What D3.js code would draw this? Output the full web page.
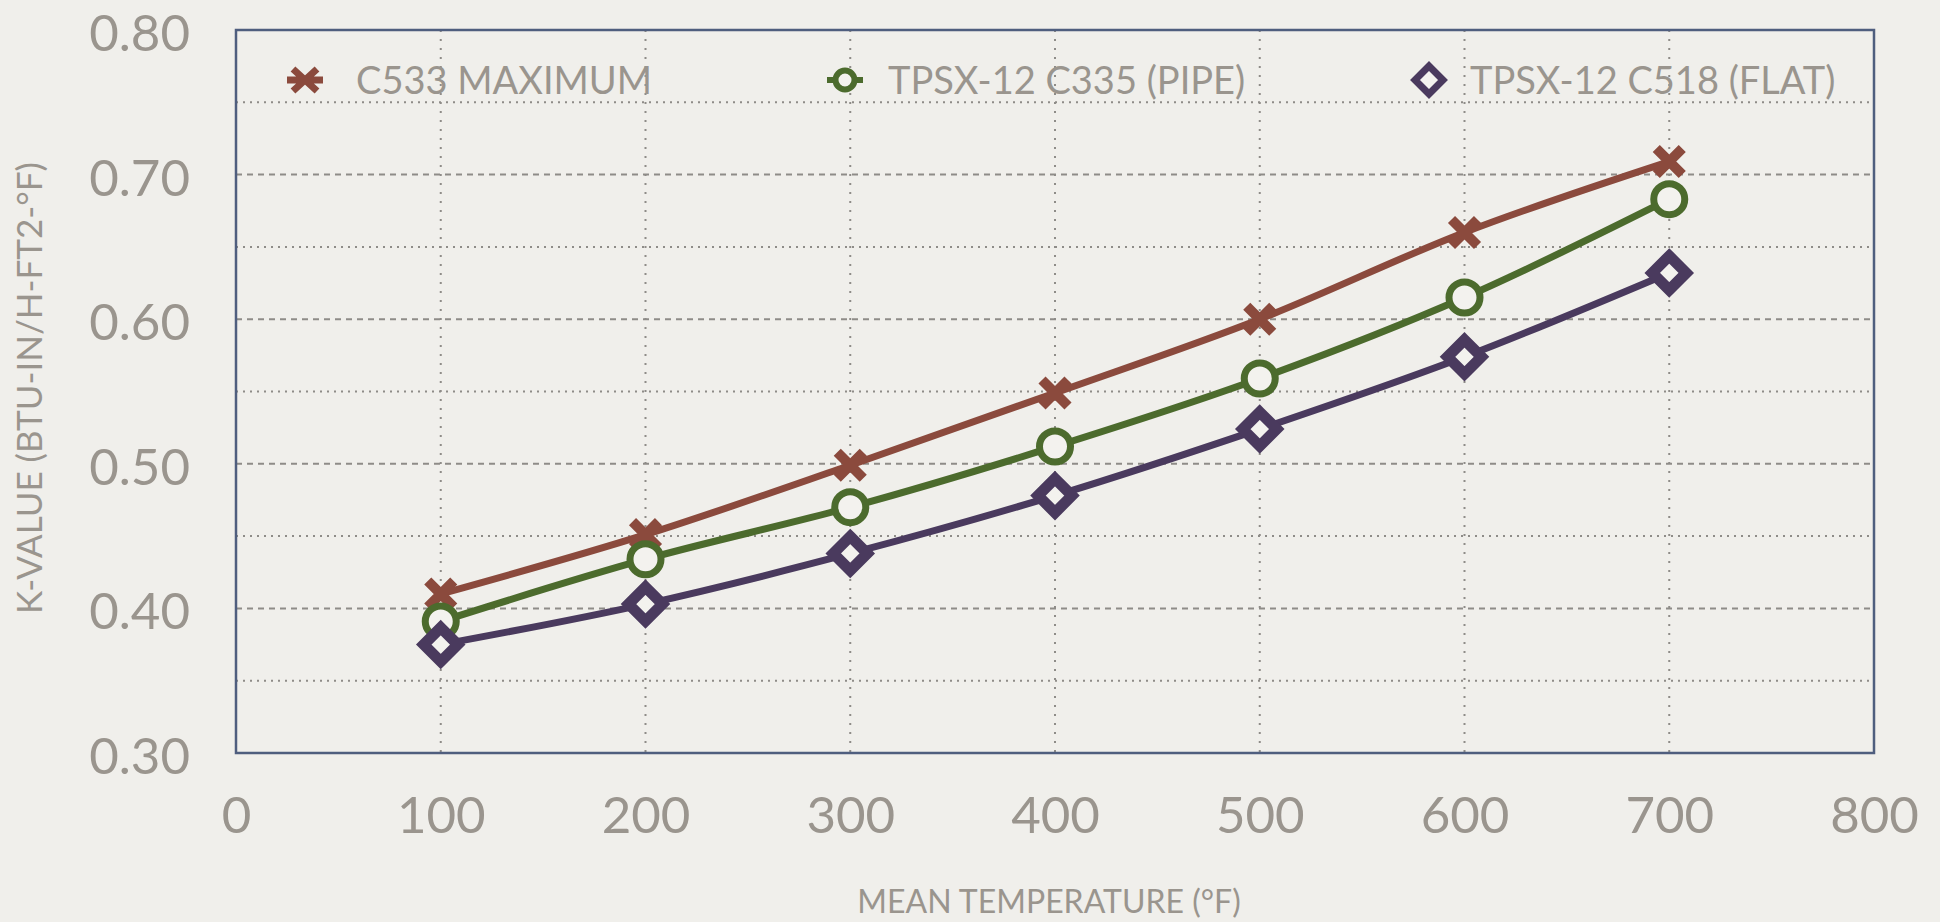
<!DOCTYPE html>
<html>
<head>
<meta charset="utf-8">
<script src="https://cdn.jsdelivr.net/npm/d3@7"></script>
<style>
  body { margin: 0; background: #f0efeb; }
  svg { display: block; }
</style>
</head>
<body>
<div id="chart"></div>
<script>
var width = 1940, height = 922;
var margin = {top: 30, right: 66, bottom: 169, left: 236};

// data
var temps = [100, 200, 300, 400, 500, 600, 700];
var c533Max = [0.410, 0.451, 0.499, 0.549, 0.600, 0.660, 0.709];
var pipeC335 = [0.391, 0.434, 0.470, 0.512, 0.559, 0.615, 0.683];
var flatC518 = [0.375, 0.403, 0.438, 0.478, 0.524, 0.574, 0.632];
var seriesNames = ["C533 MAXIMUM", "TPSX-12 C335 (PIPE)", "TPSX-12 C518 (FLAT)"];
var xTicks = [0, 100, 200, 300, 400, 500, 600, 700, 800];
var yTicks = [0.30, 0.40, 0.50, 0.60, 0.70, 0.80];

var colors = ["#8b4a3d", "#4c6b2d", "#4a3a5e"];
var textColor = "#9a958e";
var font = "Lato, 'DejaVu Sans', sans-serif";

var series = [
  {name: seriesNames[0], values: c533Max, shape: "x"},
  {name: seriesNames[1], values: pipeC335, shape: "circle"},
  {name: seriesNames[2], values: flatC518, shape: "diamond"}
];

var svg = d3.select("#chart").append("svg")
    .attr("width", width)
    .attr("height", height);

svg.append("rect")
    .attr("width", width).attr("height", height)
    .attr("fill", "#f0efeb");

var w = width - margin.left - margin.right,
    h = height - margin.top - margin.bottom;

var x = d3.scaleLinear().domain([0, 800]).range([0, w]);
var y = d3.scaleLinear().domain([0.30, 0.80]).range([h, 0]);

var g = svg.append("g")
    .attr("transform", "translate(" + margin.left + "," + margin.top + ")");

// grid: dashed at 0.1, dotted at 0.05
d3.range(0.35, 0.80, 0.05).forEach(function(v) {
  var major = Math.abs(Math.round(v * 10) - v * 10) < 1e-6;
  g.append("line")
      .attr("x1", 0).attr("x2", w)
      .attr("y1", y(v)).attr("y2", y(v))
      .attr("stroke", "#8e8c88")
      .attr("stroke-width", 2)
      .attr("stroke-dasharray", major ? "6,5" : "2,5");
});
xTicks.slice(1, -1).forEach(function(t) {
  g.append("line")
      .attr("x1", x(t)).attr("x2", x(t))
      .attr("y1", 0).attr("y2", h)
      .attr("stroke", "#8e8c88")
      .attr("stroke-width", 2)
      .attr("stroke-dasharray", "2,7");
});

// frame
g.append("rect")
    .attr("width", w).attr("height", h)
    .attr("fill", "none")
    .attr("stroke", "#4f5e7e")
    .attr("stroke-width", 2.5);

// axes
var xAxis = g.append("g")
    .attr("transform", "translate(0," + h + ")")
    .call(d3.axisBottom(x).tickValues(xTicks).tickSize(0).tickPadding(44));
var yAxis = g.append("g")
    .call(d3.axisLeft(y).tickValues(yTicks).tickSize(0).tickPadding(46)
      .tickFormat(d3.format(".2f")));
[xAxis, yAxis].forEach(function(a) {
  a.select(".domain").remove();
  a.selectAll("text")
      .attr("fill", textColor)
      .style("font-family", font)
      .style("font-size", "51px");
});
xAxis.selectAll("text").attr("dy", "0.71em");
yAxis.selectAll("text").attr("dy", "0.40em");

// axis titles
svg.append("text")
    .attr("x", margin.left + w / 2 - 6)
    .attr("y", 913)
    .attr("text-anchor", "middle")
    .attr("fill", textColor)
    .style("font-family", font)
    .style("font-size", "32px")
    .text("MEAN TEMPERATURE (°F)");

svg.append("text")
    .attr("transform", "translate(42," + 388 + ") rotate(-90)")
    .attr("text-anchor", "middle")
    .attr("fill", textColor)
    .style("font-family", font)
    .style("font-size", "35px")
    .text("K-VALUE (BTU-IN/H-FT2-°F)");

// markers
function drawMarker(sel, shape, color) {
  if (shape === "x") {
    sel.append("path")
        .attr("d", "M-13,-13L13,13M-13,13L13,-13")
        .attr("stroke", color).attr("stroke-width", 10)
        .attr("fill", "none");
  } else if (shape === "circle") {
    sel.append("circle")
        .attr("r", 15.5)
        .attr("fill", "#f3f2ee")
        .attr("stroke", color).attr("stroke-width", 7);
  } else {
    sel.append("path")
        .attr("d", "M0,-17L17,0L0,17L-17,0Z")
        .attr("fill", "#f3f2ee")
        .attr("stroke", color).attr("stroke-width", 11)
        .attr("stroke-linejoin", "miter");
  }
}

var line = d3.line()
    .x(function(d) { return x(d[0]); })
    .y(function(d) { return y(d[1]); })
    .curve(d3.curveMonotoneX);

series.forEach(function(s, i) {
  var pts = temps.map(function(t, j) { return [t, s.values[j]]; });
  g.append("path")
      .datum(pts)
      .attr("d", line)
      .attr("fill", "none")
      .attr("stroke", colors[i])
      .attr("stroke-width", 7);
  g.selectAll(".m" + i)
      .data(pts)
      .enter().append("g")
      .attr("class", "m" + i)
      .attr("transform", function(d) { return "translate(" + x(d[0]) + "," + y(d[1]) + ")"; })
      .each(function() { drawMarker(d3.select(this), s.shape, colors[i]); });
});

// legend
var legendX = [305, 845, 1429];
var legendTextX = [51, 43, 41];
var legend = svg.append("g");
series.forEach(function(s, i) {
  var lg = legend.append("g")
      .attr("transform", "translate(" + legendX[i] + ",80)");
  if (s.shape === "x") {
    lg.append("path")
        .attr("d", "M-12,-11L12,11M-12,11L12,-11M-18,0L18,0")
        .attr("stroke", colors[i]).attr("stroke-width", 7);
  } else if (s.shape === "circle") {
    lg.append("path").attr("d", "M-18,0L18,0")
        .attr("stroke", colors[i]).attr("stroke-width", 6);
    lg.append("circle").attr("r", 9.5)
        .attr("fill", "#f3f2ee")
        .attr("stroke", colors[i]).attr("stroke-width", 6);
  } else {
    lg.append("path")
        .attr("d", "M0,-14L14,0L0,14L-14,0Z")
        .attr("fill", "#f3f2ee")
        .attr("stroke", colors[i]).attr("stroke-width", 7);
  }
  lg.append("text")
      .attr("x", legendTextX[i])
      .attr("dy", "0.36em")
      .attr("fill", textColor)
      .style("font-family", font)
      .style("font-size", "38px")
      .text(s.name);
});
</script>
</body>
</html>
